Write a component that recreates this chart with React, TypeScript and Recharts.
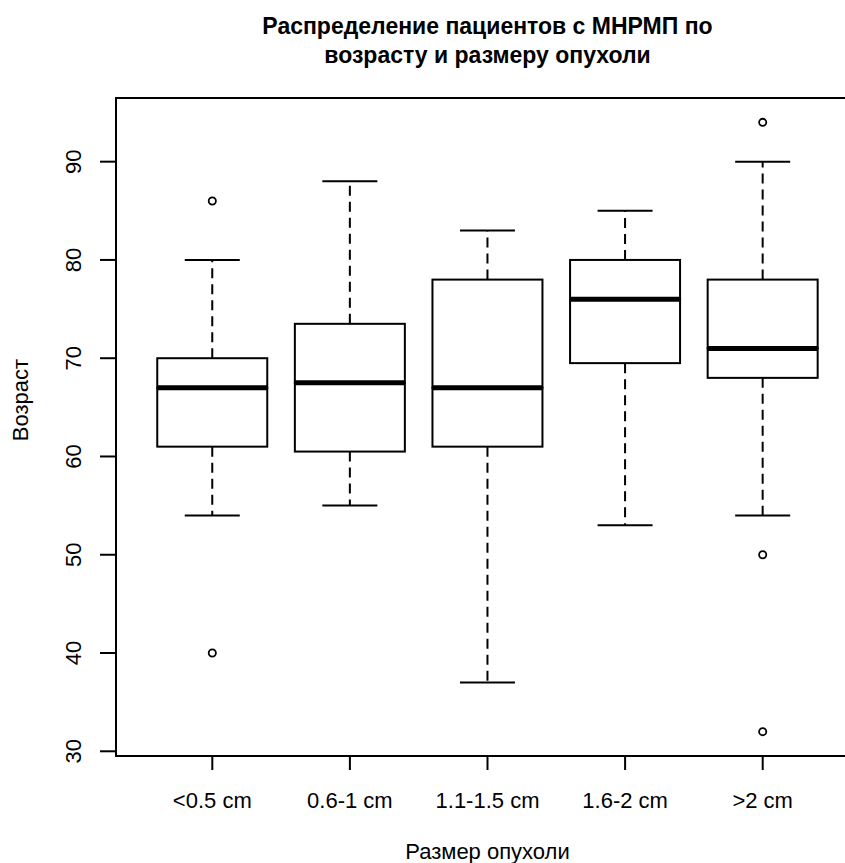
import React from "react";
import { ComposedChart, Bar, Scatter, XAxis, YAxis } from "recharts";

// tumour size groups and the five-number summary of patient age in each
const categories = ["<0.5 cm", "0.6-1 cm", "1.1-1.5 cm", "1.6-2 cm", ">2 cm"];
const whiskerLow = [54, 55, 37, 53, 54];
const q1 = [61, 60.5, 61, 69.5, 68];
const median = [67, 67.5, 67, 76, 71];
const q3 = [70, 73.5, 78, 80, 78];
const whiskerHigh = [80, 88, 83, 85, 90];
const outliers = [[86, 40], [], [], [], [94, 50, 32]];

const yTicks = [30, 40, 50, 60, 70, 80, 90];
const yDomain = [29.52, 96.48];

const title = ["Распределение пациентов с МНРМП по", "возрасту и размеру опухоли"];
const xTitle = "Размер опухоли";
const yTitle = "Возраст";

const data = categories.map((size, i) => ({
  size,
  base: whiskerLow[i],
  lowWhisker: q1[i] - whiskerLow[i],
  lowBox: median[i] - q1[i],
  highBox: q3[i] - median[i],
  highWhisker: whiskerHigh[i] - q3[i],
  out0: outliers[i][0],
  out1: outliers[i][1],
  out2: outliers[i][2],
}));

const FONT = "'Liberation Sans', Arial, sans-serif";
const INK = "#000";
const LABEL_SIZE = 22;

const Hidden = () => <g />;

const LowWhisker = ({ x, y, width, height }: any) => {
  const cx = x + width / 2;
  return (
    <g>
      <line x1={cx} x2={cx} y1={y} y2={y + height} stroke={INK} strokeWidth={2} strokeDasharray="10 6" />
      <line x1={cx - width / 4} x2={cx + width / 4} y1={y + height} y2={y + height} stroke={INK} strokeWidth={2} />
    </g>
  );
};

const HighWhisker = ({ x, y, width, height }: any) => {
  const cx = x + width / 2;
  return (
    <g>
      <line x1={cx} x2={cx} y1={y + height} y2={y} stroke={INK} strokeWidth={2} strokeDasharray="10 6" />
      <line x1={cx - width / 4} x2={cx + width / 4} y1={y} y2={y} stroke={INK} strokeWidth={2} />
    </g>
  );
};

const LowBox = ({ x, y, width, height }: any) => (
  <rect x={x} y={y} width={width} height={height} fill="#fff" stroke={INK} strokeWidth={2} />
);

const HighBox = ({ x, y, width, height }: any) => (
  <g>
    <rect x={x} y={y} width={width} height={height} fill="#fff" stroke={INK} strokeWidth={2} />
    <line x1={x} x2={x + width} y1={y + height} y2={y + height} stroke={INK} strokeWidth={5} />
  </g>
);

const outlierShape = (key: string) => (p: any) => {
  if (p.payload == null || p.payload[key] == null || !Number.isFinite(p.cy)) return <g />;
  return <circle cx={p.cx} cy={p.cy} r={3.6} fill="none" stroke={INK} strokeWidth={1.8} />;
};

const YTick = ({ x, y, payload }: any) => (
  <text
    x={x}
    y={y}
    transform={`rotate(-90, ${x}, ${y})`}
    textAnchor="middle"
    dominantBaseline="central"
    fontFamily={FONT}
    fontSize={LABEL_SIZE}
    fill={INK}
  >
    {payload.value}
  </text>
);

const XTick = ({ x, y, payload }: any) => (
  <text x={x} y={y} textAnchor="middle" dominantBaseline="central" fontFamily={FONT} fontSize={LABEL_SIZE} fill={INK}>
    {payload.value}
  </text>
);

export default function App() {
  return (
    <div style={{ position: "fixed", left: 0, top: 0, width: 845, height: 863, overflow: "hidden", background: "#fff" }}>
      <div
        style={{
          position: "absolute",
          left: 116,
          top: 12,
          width: 743,
          textAlign: "center",
          fontFamily: FONT,
          fontWeight: "bold",
          fontSize: 23,
          lineHeight: "29px",
          color: INK,
        }}
      >
        {title[0]}
        <br />
        {title[1]}
      </div>
      <div style={{ position: "absolute", left: 0, top: 0 }}>
        <ComposedChart
          width={880}
          height={863}
          data={data}
          margin={{ top: 98, right: 21, bottom: 0, left: 0 }}
          barCategoryGap="10%"
        >
          <XAxis
            dataKey="size"
            type="category"
            height={107}
            padding={{ left: 27.5, right: 27.5 }}
            axisLine={false}
            tickSize={14}
            tickMargin={30}
            tickLine={{ stroke: INK, strokeWidth: 2 }}
            tick={<XTick />}
            interval={0}
            label={{
              value: xTitle,
              content: (p: any) => {
                const vb = p.viewBox;
                return (
                  <text x={vb.x + vb.width / 2} y={851} textAnchor="middle" dominantBaseline="central" fontFamily={FONT} fontSize={LABEL_SIZE} fill={INK}>
                    {xTitle}
                  </text>
                );
              },
            }}
          />
          <YAxis
            type="number"
            domain={yDomain}
            ticks={yTicks}
            allowDataOverflow
            width={116}
            axisLine={false}
            tickSize={16}
            tickMargin={26}
            tickLine={{ stroke: INK, strokeWidth: 2 }}
            tick={<YTick />}
            interval={0}
            label={{
              value: yTitle,
              content: () => (
                <text x={20} y={400} transform="rotate(-90, 20, 400)" textAnchor="middle" dominantBaseline="central" fontFamily={FONT} fontSize={LABEL_SIZE} fill={INK}>
                  {yTitle}
                </text>
              ),
            }}
          />
          <Bar dataKey="base" stackId="box" shape={<Hidden />} isAnimationActive={false} />
          <Bar dataKey="lowWhisker" stackId="box" shape={<LowWhisker />} isAnimationActive={false} />
          <Bar dataKey="lowBox" stackId="box" shape={<LowBox />} isAnimationActive={false} />
          <Bar dataKey="highBox" stackId="box" shape={<HighBox />} isAnimationActive={false} />
          <Bar dataKey="highWhisker" stackId="box" shape={<HighWhisker />} isAnimationActive={false} />
          <Scatter dataKey="out0" shape={outlierShape("out0")} isAnimationActive={false} />
          <Scatter dataKey="out1" shape={outlierShape("out1")} isAnimationActive={false} />
          <Scatter dataKey="out2" shape={outlierShape("out2")} isAnimationActive={false} />
        </ComposedChart>
      </div>
      <div
        style={{
          position: "absolute",
          left: 115,
          top: 97,
          width: 745,
          height: 660,
          boxSizing: "border-box",
          border: `2px solid ${INK}`,
          pointerEvents: "none",
        }}
      />
    </div>
  );
}
